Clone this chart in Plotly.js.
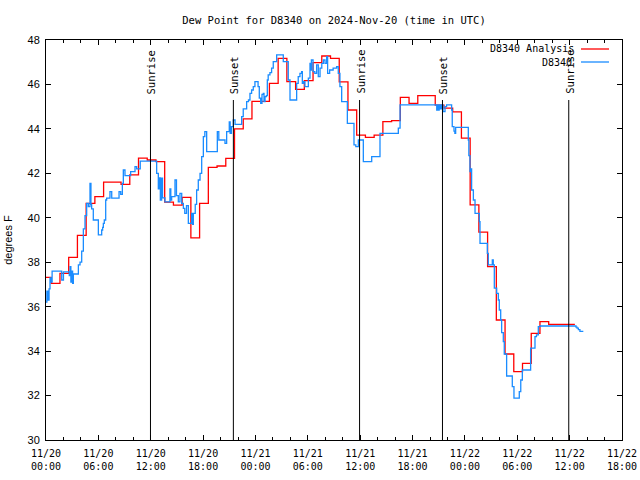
<!DOCTYPE html>
<html>
<head>
<meta charset="utf-8">
<script src="https://cdn.plot.ly/plotly-3.0.1.min.js"></script>
<style>html,body{margin:0;padding:0;background:#fff;}#chart{width:640px;height:480px;}</style>
</head>
<body>
<div id="chart"></div>
<script>
// ---- data (hours after 2024-11-20 00:00 UTC) ----
const analysisStartHour = -0.4; // hourly analysis steps
const analysisValues = [37.32, 37.05, 37.5, 38.22, 39.21, 40.65, 40.95, 41.6, 41.6, 41.5,
  41.93, 42.68, 42.6, 42.53, 40.7, 40.57, 40.92, 39.1, 40.65, 42.27,
  42.33, 42.67, 44.0, 44.45, 45.24, 45.24, 46.05, 47.17, 46.13, 45.78,
  46.17, 46.98, 47.28, 47.17, 46.12, 44.85, 43.72, 43.62, 43.72, 44.33,
  44.37, 45.42, 45.15, 45.5, 45.5, 45.07, 44.93, 44.77, 43.58, 40.58,
  39.35, 37.8, 35.4, 33.87, 33.08, 33.45, 34.8, 35.33, 35.2, 35.2, 35.2];

const obsHours = [0, 0.1, 0.2, 0.35, 0.46, 0.55, 0.7, 1.8, 2.0, 2.67,
  2.75, 2.85, 2.95, 3.05, 3.13, 3.71, 3.9, 4.09, 4.28, 4.47,
  4.66, 4.85, 5.04, 5.15, 5.23, 5.42, 6.0, 6.38, 6.49, 6.57,
  6.68, 6.84, 6.95, 7.33, 7.53, 8.37, 8.56, 8.75, 8.86, 9.05,
  9.7, 10.2, 10.39, 10.8, 12.68, 12.87, 13.0, 13.1, 13.25, 13.35,
  13.63, 14.2, 14.3, 14.4, 14.78, 14.95, 15.16, 15.35, 15.55, 15.74,
  15.9, 16.1, 16.31, 16.69, 16.8, 16.88, 17.1, 17.26, 17.45, 17.65,
  17.84, 18.03, 18.2, 18.41, 19.63, 19.8, 20.51, 20.7, 21.0, 21.1,
  21.25, 21.46, 21.66, 22.42, 22.6, 22.99, 23.2, 23.37, 23.56, 23.75,
  23.94, 24.3, 24.44, 24.6, 24.75, 24.9, 24.98, 25.1, 25.25, 25.36,
  25.46, 25.66, 25.85, 26.04, 26.43, 27.19, 27.76, 27.96, 28.72, 28.9,
  29.1, 29.29, 29.37, 29.5, 29.67, 30.06, 30.25, 30.3, 30.41, 30.6,
  30.8, 31.01, 31.2, 31.4, 31.6, 31.78, 31.97, 32.16, 32.27, 32.5,
  32.9, 33.3, 33.49, 33.68, 33.88, 34.53, 35.29, 35.5, 35.79, 36.36,
  37.32, 38.27, 40.37, 40.57, 44.77, 44.85, 44.95, 45.05, 45.15, 45.3,
  45.5, 45.72, 45.9, 46.48, 46.55, 46.75, 46.85, 46.94, 48.39, 48.45,
  48.58, 48.65, 48.77, 48.97, 49.16, 49.65, 49.73, 50.57, 50.68, 51.14,
  51.25, 51.37, 51.64, 51.83, 51.94, 52.1, 52.21, 52.4, 52.51, 52.78,
  53.43, 53.62, 54.23, 54.4, 54.58, 55.53, 56.03, 56.2, 56.41, 56.6,
  60.73, 60.85, 61.0, 61.18, 61.57];
const obsValues = [36.2, 36.7, 36.3, 36.8, 37.3, 37.1, 37.6, 37.2, 37.57, 37.4,
  37.8, 37.1, 37.6, 37.05, 37.47, 37.88, 38.0, 38.5, 39.5, 40.1,
  40.65, 40.5, 41.55, 40.6, 40.4, 39.9, 39.23, 39.45, 39.57, 39.75,
  39.9, 40.8, 40.88, 41.18, 40.88, 41.18, 41.05, 41.55, 42.15, 41.9,
  42.08, 42.3, 42.2, 42.55, 42.0, 41.3, 41.8, 40.8, 41.78, 40.9,
  40.72, 41.3, 40.8, 40.95, 41.7, 41.0, 40.72, 41.1, 40.65, 40.42,
  40.2, 40.55, 39.75, 40.2, 39.7, 40.2, 40.6, 41.25, 41.7, 42.0,
  42.75, 43.65, 43.88, 42.98, 43.88, 43.5, 43.35, 43.88, 44.32, 43.8,
  44.1, 44.4, 44.2, 44.55, 44.9, 45.23, 45.3, 45.6, 45.75, 45.9,
  46.13, 45.9, 45.38, 45.15, 45.55, 45.6, 45.23, 45.45, 45.5, 46.2,
  46.43, 46.53, 46.73, 47.03, 47.33, 47.03, 46.2, 45.3, 46.05, 46.35,
  46.5, 46.58, 46.05, 46.13, 45.9, 46.28, 46.95, 46.65, 47.1, 46.58,
  46.5, 46.88, 46.35, 46.73, 46.95, 47.1, 46.95, 47.25, 46.5, 46.65,
  46.73, 46.8, 46.5, 45.9, 45.23, 44.25, 43.28, 43.2, 43.5, 42.53,
  42.75, 43.8, 44.03, 45.08, 44.85, 45.08, 44.85, 45.08, 44.9, 45.08,
  44.78, 45.0, 45.08, 44.85, 44.1, 43.9, 43.8, 44.07, 43.5, 42.8,
  42.08, 42.2, 41.25, 40.8, 40.2, 39.83, 38.85, 38.4, 37.88, 38.1,
  37.88, 36.83, 36.6, 36.3, 35.85, 35.4, 34.83, 34.43, 33.87, 32.88,
  32.4, 31.88, 32.18, 32.7, 33.15, 34.13, 34.65, 34.73, 35.1, 35.13,
  35.08, 35.03, 34.97, 34.89, 34.89];

const sunEventHours = [11.97, 21.47, 35.93, 45.43, 59.9];
const sunEventLabels = ['Sunrise', 'Sunset', 'Sunrise', 'Sunset', 'Sunrise'];

const tickHours = [0, 6, 12, 18, 24, 30, 36, 42, 48, 54, 60, 66];
const tickLabels = ['11/20<br>00:00', '11/20<br>06:00', '11/20<br>12:00', '11/20<br>18:00',
  '11/21<br>00:00', '11/21<br>06:00', '11/21<br>12:00', '11/21<br>18:00',
  '11/22<br>00:00', '11/22<br>06:00', '11/22<br>12:00', '11/22<br>18:00'];

const seriesNames = ['D8340 Analysis', 'D8340'];
const seriesColors = ['#ff0000', '#1a8cff'];

// ---- build ----
const BASE = Date.UTC(2024, 10, 20);
const toDate = h => BASE + h * 3600000;

const anX = analysisValues.map((v, i) => toDate(analysisStartHour + i));
anX.push(toDate(analysisStartHour + analysisValues.length));
const anY = analysisValues.slice();
anY.push(analysisValues[analysisValues.length - 1]);

const traces = [
  {x: anX, y: anY, type: 'scatter', mode: 'lines', line: {shape: 'hv', color: seriesColors[0], width: 1.3},
   name: seriesNames[0], showlegend: false},
  {x: obsHours.map(toDate), y: obsValues, type: 'scatter', mode: 'lines', line: {shape: 'hv', color: seriesColors[1], width: 1.3},
   name: seriesNames[1], showlegend: false}
];

const L = 46, R = 622, T = 40, B = 440;
const px = p => (p - L) / (R - L);
const py = p => (B - p) / (B - T);
const mono = 'DejaVu Sans Mono, monospace';
const sans = 'Liberation Sans, Arial, sans-serif';

const shapes = sunEventHours.map(h => ({type: 'line', xref: 'x', yref: 'y', x0: toDate(h), x1: toDate(h), y0: 30, y1: 45.3,
  line: {color: '#000', width: 1}}));
shapes.push({type: 'line', xref: 'paper', yref: 'paper', x0: px(581), x1: px(609), y0: py(49), y1: py(49), line: {color: seriesColors[0], width: 1.3}});
shapes.push({type: 'line', xref: 'paper', yref: 'paper', x0: px(581), x1: px(609), y0: py(62), y1: py(62), line: {color: seriesColors[1], width: 1.3}});

const annotations = sunEventHours.map((h, i) => ({x: toDate(h), y: 45.3, xref: 'x', yref: 'y', text: sunEventLabels[i],
  textangle: -90, showarrow: false, xanchor: 'center', yanchor: 'bottom', yshift: 4, xshift: 1,
  font: {family: mono, size: 10.5, color: '#000'}}));
annotations.push({x: px(576), y: py(49), xref: 'paper', yref: 'paper', text: seriesNames[0], showarrow: false,
  xanchor: 'right', yanchor: 'middle', font: {family: mono, size: 10, color: '#000'}});
annotations.push({x: px(574), y: py(62), xref: 'paper', yref: 'paper', text: seriesNames[1], showarrow: false,
  xanchor: 'right', yanchor: 'middle', font: {family: mono, size: 10, color: '#000'}});

const layout = {
  width: 640, height: 480,
  margin: {l: L, r: 640 - R, t: T, b: 480 - B, pad: 0},
  paper_bgcolor: '#fff', plot_bgcolor: '#fff',
  title: {text: 'Dew Point for D8340 on 2024-Nov-20 (time in UTC)', font: {family: mono, size: 10.5, color: '#000'},
    x: 334 / 640, xanchor: 'center', y: 1 - 20 / 480, yanchor: 'middle', xref: 'container', yref: 'container'},
  showlegend: false,
  xaxis: {type: 'date', range: [toDate(0), toDate(66)], tickmode: 'array', tickvals: tickHours.map(toDate), ticktext: tickLabels,
    ticks: 'inside', ticklen: 5, tickwidth: 1, tickcolor: '#000', mirror: 'allticks', showline: true, linecolor: '#000', linewidth: 1,
    showgrid: false, zeroline: false, tickfont: {family: mono, size: 10, color: '#000'}, ticklabelstandoff: 4,
    minor: {tickmode: 'linear', tick0: toDate(0), dtick: 7200000, ticks: 'inside', ticklen: 3, tickcolor: '#000', showgrid: false}},
  yaxis: {range: [30, 48], tick0: 30, dtick: 2, ticks: 'inside', ticklen: 5, tickwidth: 1, tickcolor: '#000', mirror: 'allticks',
    showline: true, linecolor: '#000', linewidth: 1, showgrid: false, zeroline: false, ticklabelstandoff: 3,
    tickfont: {family: sans, size: 11, color: '#000'},
    title: {text: 'degrees F', font: {family: sans, size: 11, color: '#000'}, standoff: 12}},
  shapes: shapes,
  annotations: annotations
};

Plotly.newPlot('chart', traces, layout, {staticPlot: true, displayModeBar: false});
</script>
</body>
</html>
